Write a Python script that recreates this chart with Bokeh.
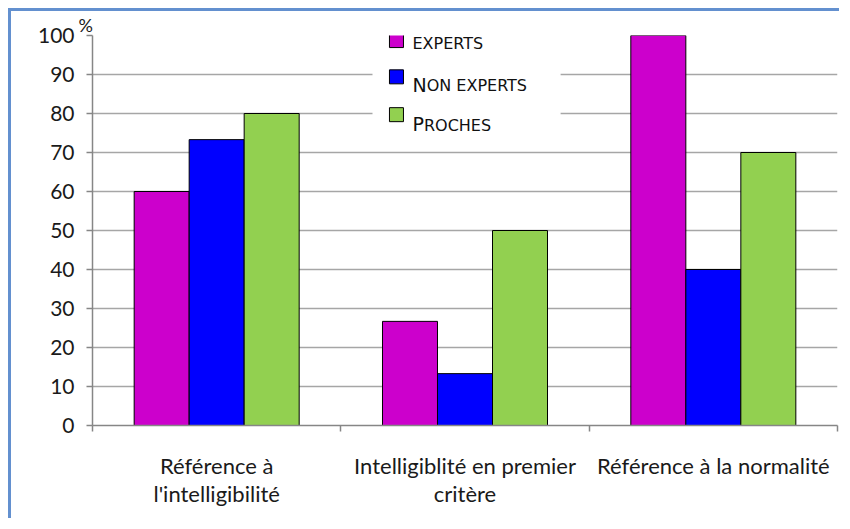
from bokeh.plotting import figure
from bokeh.models import FixedTicker, ColumnDataSource, Range1d
from bokeh.transform import dodge
from bokeh.core.properties import value
from bokeh.embed import file_html
from bokeh.resources import INLINE

# ---- data ----
categories = ["Référence à\nl'intelligibilité",
              "Intelligiblité en premier\ncritère",
              "Référence à la normalité"]
series_big = ["", "N", "P"]
series_small = ["EXPERTS", "ON EXPERTS", "ROCHES"]
experts = [60, 26.7, 100]
non_experts = [73.3, 13.3, 40]
proches = [80, 50, 70]
y_ticks = [0, 10, 20, 30, 40, 50, 60, 70, 80, 90, 100]

colors = ["#CC00CC", "#0000FF", "#92D050"]
cat_pos = [i + 0.5 for i in range(len(categories))]
bar_w = 0.2215

src = ColumnDataSource(dict(x=cat_pos, experts=experts,
                            non_experts=non_experts, proches=proches))

p = figure(width=831, height=510, output_backend="svg", toolbar_location=None,
           x_range=Range1d(0, len(categories)), y_range=Range1d(0, 100),
           min_border_left=81, min_border_right=5, min_border_top=24,
           min_border_bottom=96, title="%")
p.styles = {"margin-left": "8px", "margin-top": "8px",
            "border-left": "3px solid #6390CF", "border-top": "3px solid #6390CF"}
p.outline_line_color = None
p.background_fill_color = "white"
p.border_fill_color = "white"

p.title.align = "left"
p.title.offset = -14
p.title.standoff = 0
p.title.text_font = "Lato"
p.title.text_font_style = "normal"
p.title.text_font_size = "18px"
p.title.text_color = "#1a1a1a"

# grid
p.xgrid.grid_line_color = None
p.ygrid.grid_line_color = "#A6A6A6"
p.ygrid.grid_line_width = 1.5

# legend background box (hides gridlines)
p.quad(left=[1.1275], right=[1.885], bottom=[73.1], top=[100],
       fill_color="white", line_color=None)

# bars
for key, off, col in zip(["experts", "non_experts", "proches"],
                         [-bar_w, 0, bar_w], colors):
    p.vbar(x=dodge("x", off, range=p.x_range), top=key, width=bar_w,
           source=src, fill_color=col, line_color="black", line_width=1)

# legend (small caps emulation)
leg_x = [1.224, 1.224, 1.224]
sw_y = [98.7, 89.4, 79.7]
small_y = [98.0, 87.1, 77.0]
big_y = [98.3, 87.4, 77.3]
p.scatter(x=leg_x, y=sw_y, marker="square", size=14, fill_color=colors,
          line_color="black", line_width=1)
big_w = [0, 14.2, 11.5]
for i in range(3):
    if series_big[i]:
        p.text(x=[leg_x[i]], y=[big_y[i]], text=[series_big[i]], x_offset=16,
               text_baseline="middle", text_align="left",
               text_font=value("DejaVu Sans"), text_font_size=value("19px"),
               text_color="#111111")
    p.text(x=[leg_x[i]], y=[small_y[i]], text=[series_small[i]],
           x_offset=16 + big_w[i],
           text_baseline="middle", text_align="left",
           text_font=value("DejaVu Sans"), text_font_size=value("16px"),
           text_color="#111111")

# x axis
xa = p.xaxis[0]
xa.ticker = FixedTicker(ticks=cat_pos, minor_ticks=[0, 1, 2, 3])
xa.major_label_overrides = {cp: c for cp, c in zip(cat_pos, categories)}
xa.major_tick_out = 0
xa.major_tick_in = 0
xa.minor_tick_out = 6
xa.minor_tick_in = 0
xa.minor_tick_line_color = "#868686"
xa.minor_tick_line_width = 1.5
xa.axis_line_color = "#868686"
xa.axis_line_width = 1.5
xa.major_label_text_font = "Lato"
xa.major_label_text_font_size = "22px"
xa.major_label_text_color = "#1a1a1a"
xa.major_label_text_line_height = 1.05
xa.major_label_standoff = 20

# y axis
ya = p.yaxis[0]
ya.ticker = FixedTicker(ticks=y_ticks)
ya.major_tick_out = 6
ya.major_tick_in = 0
ya.minor_tick_line_color = None
ya.major_tick_line_color = "#868686"
ya.major_tick_line_width = 1.5
ya.axis_line_color = "#868686"
ya.axis_line_width = 1.5
ya.major_label_text_font = "Lato"
ya.major_label_text_font_size = "21px"
ya.major_label_text_color = "#1a1a1a"
ya.major_label_standoff = 12

open("out.html", "w").write(file_html(p, INLINE))
